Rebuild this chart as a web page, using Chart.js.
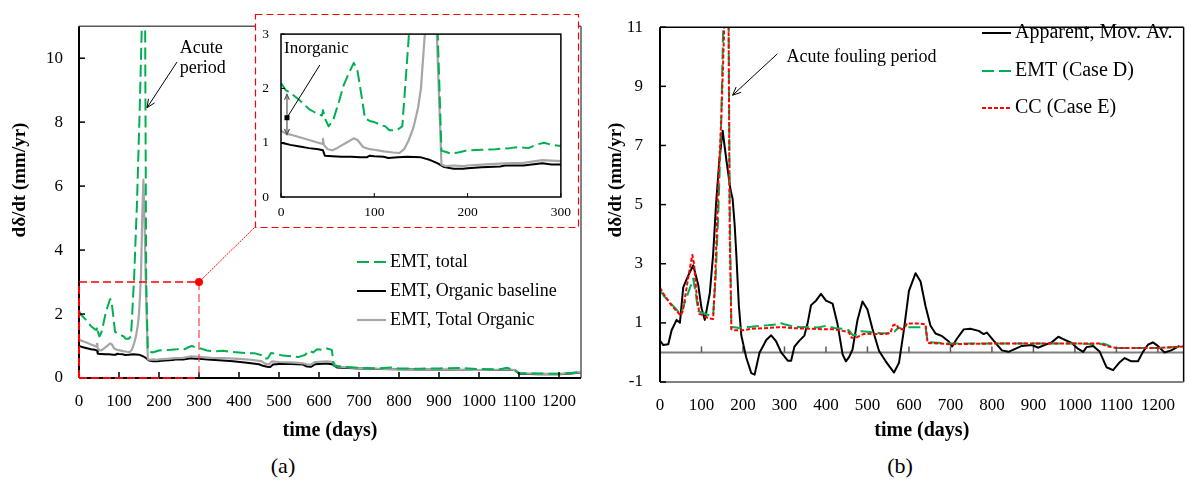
<!DOCTYPE html>
<html><head><meta charset="utf-8">
<script src="https://cdn.jsdelivr.net/npm/chart.js@4.4.1/dist/chart.umd.min.js"></script>
<style>
html,body{margin:0;padding:0;background:#fff;}
body{width:1188px;height:485px;position:relative;overflow:hidden;font-family:"Liberation Serif","Times New Roman",serif;}
canvas{position:absolute;}
.plab{position:absolute;font-size:22px;transform:translate(-50%,-50%);color:#000;}
</style></head>
<body>
<canvas id="ca" width="600" height="445" style="left:0;top:0;"></canvas>
<canvas id="ci" width="328" height="213" style="left:250px;top:14px;"></canvas>
<canvas id="cb" width="588" height="445" style="left:600px;top:0;"></canvas>
<div class="plab" style="left:283px;top:466px;">(a)</div>
<div class="plab" style="left:900px;top:466px;">(b)</div>
<script>
// ---------------- DATA ----------------
const xTicksMain = [0,100,200,300,400,500,600,700,800,900,1000,1100,1200];
const yTicksA = [0,2,4,6,8,10];
const yTicksB = [-1,1,3,5,7,9,11];
const xTicksInset = [0,100,200,300];
const yTicksInset = [0,1,2,3];

const namesA = ['EMT, total','EMT, Organic baseline','EMT, Total Organic'];
const namesB = ['Apparent, Mov. Av.','EMT (Case D)','CC (Case E)'];

// (a) EMT, total
const aTotalDays = [0,5,10,15,20,25,30,35,40,44,45,47,51,56,62,67,72,78,82,86,90,95,100,108,112,116,124,130,133,138,145,152,158,165,168,172,177,182,190,200,215,230,245,255,265,275,282,290,300,320,340,360,380,400,420,440,455,465,472,480,490,510,530,550,565,575,585,595,610,620,632,637,660,700,750,780,800,850,900,950,1000,1050,1070,1085,1100,1150,1200,1230,1255];
const aTotalVals = [2.10,1.97,1.92,1.85,1.78,1.70,1.62,1.57,1.52,1.50,1.60,1.45,1.30,1.42,1.75,2.05,2.25,2.47,2.32,1.90,1.45,1.40,1.38,1.32,1.30,1.23,1.23,1.30,2.00,3.20,5.50,8.50,11.5,12.0,3.00,0.85,0.83,0.80,0.82,0.86,0.87,0.88,0.90,0.92,0.90,0.97,1.00,0.96,0.94,0.86,0.83,0.85,0.82,0.80,0.78,0.77,0.72,0.60,0.62,0.78,0.76,0.70,0.68,0.66,0.72,0.85,0.80,0.90,0.88,0.92,0.88,0.38,0.35,0.32,0.30,0.33,0.30,0.29,0.30,0.31,0.28,0.27,0.32,0.26,0.15,0.14,0.13,0.16,0.19];
// (a) EMT, Organic baseline
const aBaseDays = [0,5,10,20,30,40,45,47,55,65,75,85,92,95,100,110,115,125,135,150,160,168,175,185,195,200,215,235,240,260,280,290,300,330,360,385,420,450,460,470,478,485,500,530,560,570,580,590,620,635,645,700,750,800,900,1000,1090,1100,1150,1200,1230,1255];
const aBaseVals = [1.00,0.98,0.96,0.93,0.90,0.88,0.86,0.76,0.75,0.74,0.74,0.73,0.73,0.76,0.75,0.74,0.72,0.73,0.74,0.73,0.68,0.62,0.55,0.52,0.52,0.53,0.55,0.56,0.58,0.58,0.62,0.60,0.60,0.57,0.55,0.52,0.48,0.43,0.38,0.35,0.34,0.42,0.44,0.44,0.42,0.36,0.35,0.43,0.45,0.42,0.33,0.30,0.28,0.27,0.26,0.25,0.25,0.13,0.12,0.12,0.14,0.17];
// (a) EMT, Total Organic
const aOrgDays = [0,5,10,20,30,40,44,45,46,50,55,60,65,70,78,82,88,95,100,110,120,127,132,137,142,147,150,155,158,161,164,167,172,176,185,195,200,220,240,260,280,300,330,360,400,430,455,465,475,482,500,540,560,570,580,590,620,635,645,700,750,800,900,1000,1050,1070,1090,1100,1150,1200,1230,1255];
const aOrgVals = [1.22,1.17,1.15,1.10,1.05,1.00,0.98,1.07,0.96,0.88,0.86,0.90,0.95,1.00,1.08,1.05,0.92,0.88,0.87,0.84,0.82,0.81,0.88,1.05,1.28,1.65,2.00,3.20,5.00,6.20,4.80,3.00,0.60,0.57,0.58,0.57,0.58,0.60,0.62,0.63,0.68,0.66,0.63,0.62,0.60,0.57,0.53,0.45,0.42,0.52,0.50,0.48,0.46,0.42,0.42,0.50,0.52,0.50,0.36,0.30,0.29,0.27,0.26,0.25,0.26,0.27,0.25,0.15,0.13,0.13,0.15,0.18];

// (b) Apparent, Mov. Av.
const bAppDays = [0,8,20,28,40,48,56,68,80,92,100,108,120,128,135,143,151,160,170,175,180,184,190,196,208,220,228,240,248,256,268,280,292,308,316,324,336,348,356,364,376,388,400,416,428,440,448,456,464,476,488,500,512,528,544,564,576,588,600,616,628,640,652,664,680,696,704,716,732,748,768,780,788,804,824,840,856,872,896,912,928,944,960,972,992,1008,1020,1028,1044,1060,1076,1092,1108,1120,1136,1152,1164,1176,1188,1200,1216,1232,1252];
const bAppVals = [0.40,0.25,0.28,0.75,1.10,1.00,2.20,2.60,2.95,2.30,1.50,1.10,2.00,3.30,5.00,6.50,7.50,6.50,5.50,5.20,4.30,3.30,1.60,0.57,-0.18,-0.70,-0.75,0.00,0.20,0.42,0.58,0.37,0.00,-0.28,-0.28,0.20,0.40,0.57,1.00,1.60,1.75,1.98,1.75,1.65,0.95,-0.06,-0.30,-0.15,0.10,1.10,1.72,1.45,0.80,0.05,-0.30,-0.68,-0.35,0.78,2.08,2.68,2.40,1.56,0.90,0.64,0.55,0.37,0.20,0.47,0.78,0.80,0.73,0.62,0.67,0.40,0.07,0.02,0.12,0.22,0.25,0.16,0.26,0.34,0.53,0.45,0.32,0.12,0.02,0.18,0.22,0.02,-0.50,-0.60,-0.33,-0.19,-0.30,-0.30,0.02,0.26,0.34,0.22,0.00,0.07,0.22];
// (b) EMT (Case D)
const bEmtDays = [0,10,20,30,40,48,52,60,70,80,86,92,100,110,120,128,134,140,147,153,165,168,172,180,190,200,220,240,260,280,290,300,320,340,360,380,400,420,440,455,465,475,485,500,530,550,565,575,585,595,620,640,645,700,800,900,1000,1060,1070,1090,1100,1200,1262];
const bEmtVals = [2.10,1.90,1.75,1.60,1.45,1.30,1.35,1.70,2.10,2.50,2.00,1.40,1.35,1.30,1.25,1.25,2.50,4.50,7.50,11.5,12.0,5.00,0.85,0.85,0.83,0.85,0.87,0.90,0.92,0.95,1.00,0.95,0.88,0.85,0.87,0.84,0.90,0.83,0.80,0.75,0.58,0.60,0.72,0.70,0.66,0.65,0.70,0.85,0.78,0.85,0.85,0.85,0.35,0.30,0.30,0.30,0.30,0.28,0.30,0.18,0.15,0.15,0.20];
// (b) CC (Case E)
const bCcDays = [0,10,20,30,40,50,55,62,70,78,82,88,95,100,110,120,128,133,140,148,156,165,168,172,180,200,220,250,280,300,320,360,400,420,440,455,462,470,480,490,500,540,555,562,570,576,588,595,620,640,645,700,800,900,1000,1060,1080,1100,1200,1262];
const bCcVals = [2.20,1.95,1.75,1.55,1.40,1.25,1.40,2.00,2.70,3.30,3.00,2.00,1.30,1.28,1.20,1.15,1.13,2.50,5.50,8.00,11.5,12.0,4.00,0.78,0.75,0.75,0.80,0.82,0.85,0.85,0.82,0.80,0.78,0.78,0.73,0.68,0.50,0.48,0.55,0.62,0.63,0.62,0.65,0.92,0.95,0.78,0.78,0.98,0.98,0.95,0.32,0.28,0.30,0.30,0.30,0.30,0.20,0.15,0.15,0.20];

// ---------------- STYLE / HELPERS ----------------
const SERIF = '"Liberation Serif","Times New Roman",serif';
const GREEN = '#00B050', GRAY = '#A6A6A6', RED = '#FF0000';
const pts = (d, v) => d.map((x, i) => ({x: x, y: v[i]}));

function seg(ctx, x1, y1, x2, y2, color, w, dash) {
  ctx.save(); ctx.beginPath(); ctx.strokeStyle = color; ctx.lineWidth = w;
  ctx.setLineDash(dash || []); ctx.moveTo(x1, y1); ctx.lineTo(x2, y2); ctx.stroke(); ctx.restore();
}
function arrow(ctx, x1, y1, x2, y2, L, color, w) {
  seg(ctx, x1, y1, x2, y2, color, w);
  const a = Math.atan2(y2 - y1, x2 - x1);
  ctx.save(); ctx.beginPath(); ctx.strokeStyle = color; ctx.lineWidth = w;
  ctx.moveTo(x2 - L * Math.cos(a - 0.42), y2 - L * Math.sin(a - 0.42));
  ctx.lineTo(x2, y2);
  ctx.lineTo(x2 - L * Math.cos(a + 0.42), y2 - L * Math.sin(a + 0.42));
  ctx.stroke(); ctx.restore();
}
function text(ctx, s, x, y, font, align) {
  ctx.save(); ctx.font = font; ctx.fillStyle = '#000'; ctx.textAlign = align || 'left';
  ctx.textBaseline = 'middle'; ctx.fillText(s, x, y); ctx.restore();
}
function vtext(ctx, s, x, y, font) {
  ctx.save(); ctx.translate(x, y); ctx.rotate(-Math.PI / 2); ctx.font = font; ctx.fillStyle = '#000';
  ctx.textAlign = 'center'; ctx.textBaseline = 'middle'; ctx.fillText(s, 0, 0); ctx.restore();
}
function legend(ctx, items, x1, x2, tx, ys, font) {
  items.forEach((it, i) => {
    seg(ctx, x1, ys[i], x2, ys[i], it.borderColor, it.borderWidth, it.borderDash);
    text(ctx, it.label, tx, ys[i], font);
  });
}
function xScale(min, max, ticks, fontSize, pad, h, titleText) {
  return {
    type: 'linear', min: min, max: max,
    grid: {display: false, drawTicks: false}, border: {display: false},
    afterBuildTicks: s => { s.ticks = ticks.map(v => ({value: v})); },
    afterFit: s => { s.height = h; },
    ticks: {font: {family: SERIF, size: fontSize}, color: '#000', padding: pad, maxRotation: 0, autoSkip: false, callback: v => String(v)},
    title: titleText ? {display: true, text: titleText, font: {family: SERIF, size: 20, weight: 'bold'}, color: '#000', padding: {top: 0, bottom: 2}} : {display: false}
  };
}
function yScale(min, max, ticks, fontSize, pad, w) {
  return {
    type: 'linear', min: min, max: max,
    grid: {display: false, drawTicks: false}, border: {display: false},
    afterBuildTicks: s => { s.ticks = ticks.map(v => ({value: v})); },
    afterFit: s => { s.width = w; },
    ticks: {font: {family: SERIF, size: fontSize}, color: '#000', padding: pad, callback: v => String(v)}
  };
}
const lineDefaults = {pointRadius: 0, tension: 0, fill: false, borderJoinStyle: 'round'};

function aDatasets() {
  return [
    Object.assign({label: namesA[0], data: pts(aTotalDays, aTotalVals), borderColor: GREEN, borderWidth: 2, borderDash: [12, 5], order: 1}, lineDefaults),
    Object.assign({label: namesA[1], data: pts(aBaseDays, aBaseVals), borderColor: '#000', borderWidth: 2, order: 3}, lineDefaults),
    Object.assign({label: namesA[2], data: pts(aOrgDays, aOrgVals), borderColor: GRAY, borderWidth: 2.2, order: 2}, lineDefaults)
  ];
}

// ---------------- CHART (a) ----------------
const dsA = aDatasets();
new Chart(document.getElementById('ca'), {
  type: 'line',
  data: {datasets: dsA},
  options: {
    responsive: false, animation: false, devicePixelRatio: 1, parsing: false,
    layout: {padding: {left: 0, top: 11, right: 19, bottom: 0}},
    plugins: {legend: {display: false}, tooltip: {enabled: false}},
    scales: {
      x: xScale(0, 1255, xTicksMain, 17, 13, 67, 'time (days)'),
      y: yScale(0, 11, yTicksA, 17, 16, 79)
    }
  },
  plugins: [{
    id: 'decoA',
    afterDatasetsDraw(chart) {
      const {ctx, chartArea: {left, right, top, bottom}, scales: {x, y}} = chart;
      // frame
      seg(ctx, left, top, right, top, '#595959', 1.5);
      seg(ctx, right, top, right, bottom, '#595959', 1.5);
      seg(ctx, left, top, left, bottom, '#000', 2);
      seg(ctx, left, bottom, right, bottom, '#000', 2);
      xTicksMain.forEach(v => { const p = x.getPixelForValue(v); seg(ctx, p, bottom, p, bottom - 6, '#000', 1.5); });
      yTicksA.forEach(v => { const p = y.getPixelForValue(v); seg(ctx, left, p, left + 6, p, '#000', 1.5); });
      // zoom window (0-300 days, 0-3)
      const x0 = x.getPixelForValue(0), x3 = x.getPixelForValue(300), y0 = y.getPixelForValue(0), y3 = y.getPixelForValue(3);
      seg(ctx, x0, y0, x3, y0, RED, 2, [8, 4]);
      seg(ctx, x0, y0, x0, y3, RED, 2, [8, 4]);
      seg(ctx, x0, y3, x3, y3, RED, 1.5, [8, 4]);
      seg(ctx, x3, y3, x3, y0, 'rgba(255,60,60,0.6)', 2, [8, 4]);
      // inset box
      const bx1 = 255, by1 = 14, bx2 = 578, by2 = 227;
      ctx.save(); ctx.fillStyle = '#fff'; ctx.fillRect(bx1, by1, bx2 - bx1, by2 - by1); ctx.restore();
      ctx.save(); ctx.strokeStyle = RED; ctx.lineWidth = 1.2; ctx.setLineDash([7, 4]);
      ctx.strokeRect(bx1 + 0.5, by1 + 0.5, bx2 - bx1, by2 - by1); ctx.restore();
      seg(ctx, x3, y3, bx1, by2, RED, 1, [2, 1]);
      ctx.save(); ctx.fillStyle = RED; ctx.beginPath(); ctx.arc(x3, y3, 4, 0, Math.PI * 2); ctx.fill(); ctx.restore();
      // annotation
      arrow(ctx, x.getPixelForValue(245), y.getPixelForValue(9.88), x.getPixelForValue(170), y.getPixelForValue(8.45), 9, '#000', 1);
      text(ctx, 'Acute', x.getPixelForValue(252), y.getPixelForValue(10.3), '18px ' + SERIF);
      text(ctx, 'period', x.getPixelForValue(252), y.getPixelForValue(9.7), '18px ' + SERIF);
      // legend
      legend(ctx, [dsA[0], dsA[1], dsA[2]], 357, 386, 390, [262, 291, 320], '18px ' + SERIF);
      // y title
      vtext(ctx, 'd\u03B4/dt (mm/yr)', 20, 180, 'bold 19px ' + SERIF);
    }
  }]
});

// ---------------- INSET ----------------
new Chart(document.getElementById('ci'), {
  type: 'line',
  data: {datasets: aDatasets()},
  options: {
    responsive: false, animation: false, devicePixelRatio: 1, parsing: false,
    layout: {padding: {left: 0, top: 8, right: 16, bottom: 0}},
    plugins: {legend: {display: false}, tooltip: {enabled: false}},
    scales: {
      x: xScale(0, 300, xTicksInset, 13.5, 7, 30, null),
      y: yScale(0, 3, yTicksInset, 13.5, 12, 31)
    }
  },
  plugins: [{
    id: 'decoI',
    afterDatasetsDraw(chart) {
      const {ctx, chartArea: {left, right, top, bottom}, scales: {x, y}} = chart;
      ctx.save(); ctx.strokeStyle = '#000'; ctx.lineWidth = 1.5; ctx.strokeRect(left, top, right - left, bottom - top); ctx.restore();
      xTicksInset.forEach(v => { const p = x.getPixelForValue(v); seg(ctx, p, bottom, p, bottom - 4, '#000', 1); });
      yTicksInset.forEach(v => { const p = y.getPixelForValue(v); seg(ctx, left, p, left + 4, p, '#000', 1); });
      const ax = x.getPixelForValue(6.4);
      arrow(ctx, ax, y.getPixelForValue(1.5), ax, y.getPixelForValue(1.89), 6, '#555', 1.2);
      arrow(ctx, ax, y.getPixelForValue(1.5), ax, y.getPixelForValue(1.15), 6, '#555', 1.2);
      seg(ctx, x.getPixelForValue(41.6), y.getPixelForValue(2.43), ax, y.getPixelForValue(1.46), '#000', 1);
      ctx.save(); ctx.fillStyle = '#000'; ctx.fillRect(ax - 2.5, y.getPixelForValue(1.46) - 2.5, 5, 5); ctx.restore();
      text(ctx, 'Inorganic', x.getPixelForValue(3.2), y.getPixelForValue(2.74), '17px ' + SERIF);
    }
  }]
});

// ---------------- CHART (b) ----------------
const dsB = [
  Object.assign({label: namesB[0], data: pts(bAppDays, bAppVals), borderColor: '#000', borderWidth: 2, order: 3}, lineDefaults),
  Object.assign({label: namesB[1], data: pts(bEmtDays, bEmtVals), borderColor: GREEN, borderWidth: 2, borderDash: [12, 5], order: 2}, lineDefaults),
  Object.assign({label: namesB[2], data: pts(bCcDays, bCcVals), borderColor: RED, borderWidth: 2, borderDash: [4, 2], order: 1}, lineDefaults)
];
new Chart(document.getElementById('cb'), {
  type: 'line',
  data: {datasets: dsB},
  options: {
    responsive: false, animation: false, devicePixelRatio: 1, parsing: false,
    layout: {padding: {left: 0, top: 13, right: 2, bottom: 0}},
    plugins: {legend: {display: false}, tooltip: {enabled: false}},
    scales: {
      x: xScale(0, 1262, xTicksMain, 17, 13, 63, 'time (days)'),
      y: yScale(-1, 11, yTicksB, 17, 17, 60)
    }
  },
  plugins: [{
    id: 'decoB',
    beforeDatasetsDraw(chart) {
      const {ctx, chartArea: {left, right}, scales: {x, y}} = chart;
      const z = y.getPixelForValue(0);
      seg(ctx, left, z, right, z, '#7F7F7F', 2);
      xTicksMain.forEach(v => { const p = x.getPixelForValue(v); seg(ctx, p, z, p, z - 6, '#595959', 1.5); });
    },
    afterDatasetsDraw(chart) {
      const {ctx, chartArea: {left, right, top, bottom}, scales: {x, y}} = chart;
      seg(ctx, left, top, right, top, '#000', 1.5);
      seg(ctx, right, top, right, bottom, '#000', 1.5);
      seg(ctx, left, bottom, right, bottom, '#7F7F7F', 2);
      seg(ctx, left, top, left, bottom, '#000', 2);
      yTicksB.forEach(v => { const p = y.getPixelForValue(v); seg(ctx, left, p, left + 6, p, '#000', 1.5); });
      arrow(ctx, x.getPixelForValue(283), y.getPixelForValue(10.1), x.getPixelForValue(175), y.getPixelForValue(8.7), 9, '#000', 1);
      text(ctx, 'Acute fouling period', x.getPixelForValue(305), y.getPixelForValue(9.98), '18px ' + SERIF);
      legend(ctx, dsB, 382, 411, 415, [33, 71, 108], '20px ' + SERIF);
      vtext(ctx, 'd\u03B4/dt (mm/yr)', 16, 180, 'bold 19px ' + SERIF);
    }
  }]
});
</script>
</body></html>
